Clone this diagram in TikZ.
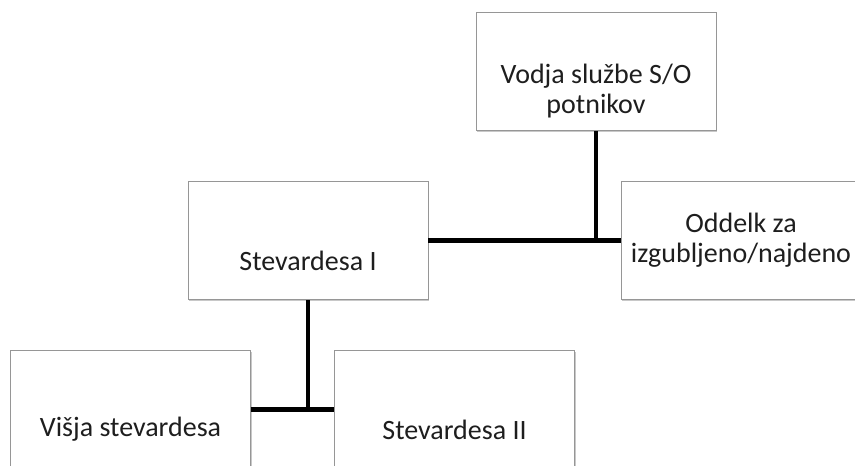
\documentclass[tikz,border=0pt]{standalone}
\usepackage{fontspec}
\setmainfont{Carlito}
\usetikzlibrary{positioning,shadows}
\definecolor{boxgray}{RGB}{150,150,150}
\definecolor{captext}{RGB}{30,30,30}

\begin{document}
\begin{tikzpicture}[
  x=0.75pt, y=-0.75pt,
  unit/.style={rectangle, draw=boxgray, fill=white, line width=0.7pt, inner sep=0pt,
    minimum width=180pt, minimum height=89pt,
    drop shadow={shadow xshift=1.1pt, shadow yshift=-1.1pt, opacity=0.3, fill=black!70}},
  caption/.style={font=\fontsize{21}{22.5}\selectfont, align=center, text=captext, inner sep=0pt},
  link/.style={line width=3.2pt, black},
]
  \useasboundingbox[fill=white] (0,0) rectangle (855,466);

  % Boxes
  \node[unit] (vodja)  at (596,71.5)  {};
  \node[unit] (stev1)  at (308,240.5) {};
  \node[unit] (oddelk) at (741,240.5) {};
  \node[unit] (visja)  at (130.5,409.5) {};
  \node[unit] (stev2)  at (454.5,409.5) {};

  % Texts
  \node[caption] (vodja-t)  at ([yshift=-15pt]vodja.center) {Vodja službe S/O\\potnikov};
  \node[caption] (stev1-t)  at ([yshift=-15pt]stev1.center) {Stevardesa I};
  \node[caption] (oddelk-t) at (oddelk.center) {Oddelk za\\izgubljeno/najdeno};
  \node[caption] (visja-t)  at ([yshift=-15pt]visja.center) {Višja stevardesa};
  \node[caption] (stev2-t)  at ([yshift=-15pt]stev2.center) {Stevardesa II};

  % Connectors
  \draw[link] (vodja.south) -- (vodja.south |- stev1.east);
  \draw[link] (stev1.east) -- (oddelk.west);
  \draw[link] (stev1.south) -- (stev1.south |- visja.east);
  \draw[link] (visja.east) -- (stev2.west);
\end{tikzpicture}
\end{document}
